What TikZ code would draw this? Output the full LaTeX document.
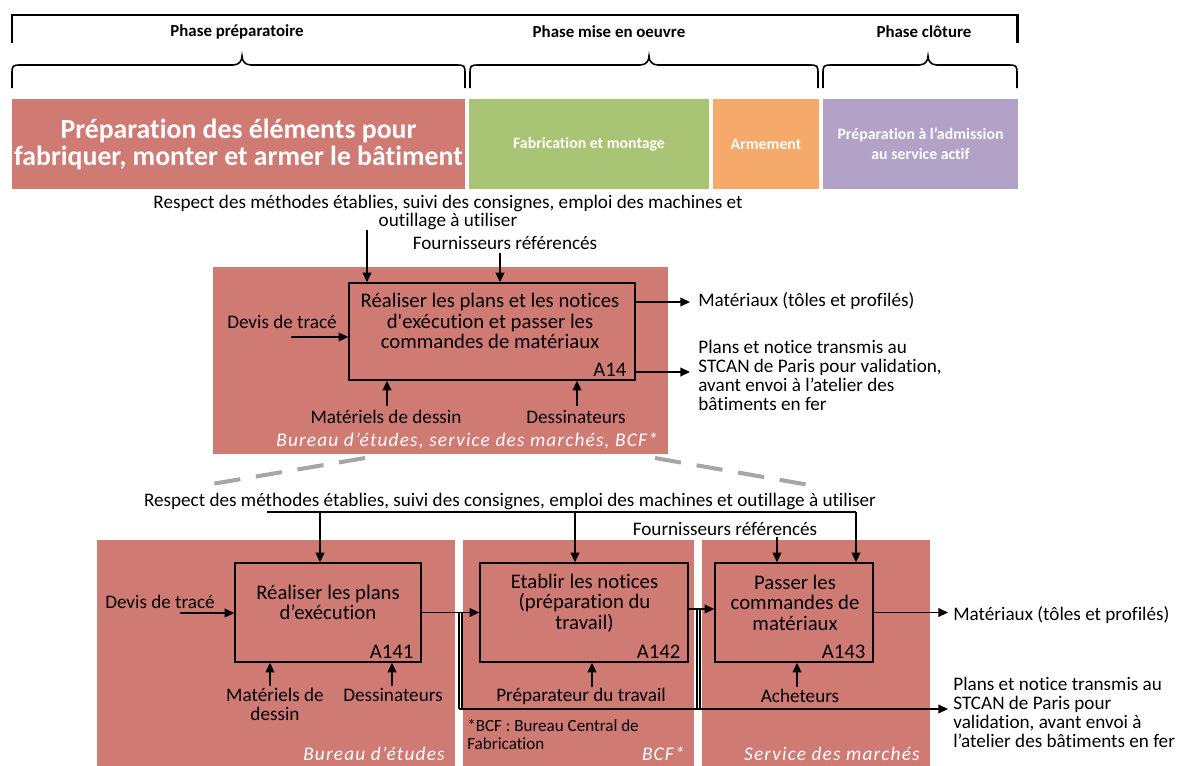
\documentclass[tikz,border=0pt]{standalone}
\usepackage{fontspec}
\setmainfont{Carlito}[Ligatures={TeX,NoCommon}]
\newfontfamily\spacedit[LetterSpace=6,Ligatures=NoCommon]{Carlito}
\usetikzlibrary{arrows.meta,calc}

\definecolor{boxred}{RGB}{207,123,116}
\definecolor{boxgreen}{RGB}{169,196,116}
\definecolor{boxorange}{RGB}{245,169,106}
\definecolor{boxpurple}{RGB}{178,162,199}
\definecolor{dashgray}{RGB}{166,166,166}

\newcommand\dglab{\fontsize{10.9}{10.8}\selectfont}
\newcommand\dgact{\fontsize{11.8}{11.7}\selectfont}
\newcommand\dgbig{\fontsize{15.8}{15.4}\selectfont\bfseries}
\newcommand\dgsml{\fontsize{9}{11.4}\selectfont\bfseries}
\newcommand\dgphase{\fontsize{9.6}{11}\selectfont\bfseries}
\newcommand\dgnote{\fontsize{9.7}{10}\selectfont}
\newcommand\dgunit{\fontsize{11}{12}\selectfont\spacedit\itshape}

% curly brace over a phase: left end, tip, right end
\newcommand\dgbrace[3]{%
  \draw[brace] (#1,88) -- (#1,75) .. controls (#1,65) .. ({#1+10},65)
    -- ({#2-9},65) .. controls ({#2-3},65) and (#2,61) .. (#2,56)
    .. controls (#2,61) and ({#2+3},65) .. ({#2+9},65)
    -- ({#3-10},65) .. controls (#3,65) .. (#3,75) -- (#3,88);}

\begin{document}
\begin{tikzpicture}[x=0.02cm,y=-0.02cm,
  phase/.style={fill=#1,text=white,inner sep=0pt,align=center,minimum height=1.8cm},
  act/.style={draw=black,line width=0.8pt,inner sep=0pt},
  acttxt/.style={font=\dgact,align=center,inner sep=0pt},
  actid/.style={font=\dgact,inner sep=0pt,anchor=south east},
  lbl/.style={font=\dglab,align=center,inner sep=0pt},
  lbll/.style={font=\dglab,align=left,inner sep=0pt,anchor=west},
  unit/.style={font=\dgunit,text=white,inner sep=0pt,anchor=east},
  arr/.style={line width=0.75pt,-{Triangle[length=5.5pt,width=5pt]}},
  ln/.style={line width=0.75pt},
  brace/.style={line width=0.9pt},
  zoomline/.style={draw=dashgray,line width=2.3pt,dash pattern=on 15pt off 9pt}
]
\useasboundingbox (0,0) rectangle (1180,765);
\clip (0,0) rectangle (1180,765);

% ---------- phases ----------
\draw[line width=1.7pt] (12,43) -- (12,15) -- (1017,15) -- (1017,43);
\node[font=\dgphase,inner sep=0pt] (lprep) at (237,31.5) {Phase préparatoire};
\node[font=\dgphase,inner sep=0pt] (lmise) at (609,31.5) {Phase mise en oeuvre};
\node[font=\dgphase,inner sep=0pt] (lclot) at (924,31.5) {Phase clôture};
\dgbrace{12}{242}{465}
\dgbrace{470}{649}{818}
\dgbrace{823}{928}{1017}

\node[phase=boxred,font=\dgbig,minimum width=9.06cm] (pprep) at (238.5,144)
  {\raisebox{-2pt}{\parbox{9cm}{\centering Préparation des éléments pour\\fabriquer, monter et armer le bâtiment}}};
\node[phase=boxgreen,font=\dgsml,minimum width=4.8cm] (pfab) at (589,144)
  {Fabrication et montage};
\node[phase=boxorange,font=\dgsml,minimum width=2.12cm] (parm) at (766,144)
  {Armement};
\node[phase=boxpurple,font=\dgsml,minimum width=3.9cm] (padm) at (920.5,144)
  {Préparation à l’admission\\au service actif};

% ---------- activity A14 ----------
\fill[boxred] (213,267) rectangle (668,454);
\node[act,minimum width=5.72cm,minimum height=1.94cm] (a14) at (492,331.5) {};
\node[acttxt] (a14t) at (490,321)
  {Réaliser les plans et les notices\\d\textquotesingle exécution et passer les\\commandes de matériaux};
\node[actid] (a14id) at ($(a14.south east)+(-9,-4)$) {A14};

\node[lbl] (ctl14) at (448,212.5)
  {Respect des méthodes établies, suivi des consignes, emploi des machines et\\outillage à utiliser};
\node[lbl] (sup14) at (505,243) {Fournisseurs référencés};
\node[lbl] (in14) at (282,322) {Devis de tracé};
\node[lbl] (mat14) at (386,417) {Matériels de dessin};
\node[lbl] (des14) at (576,417) {Dessinateurs};
\node[lbll] (out14a) at (698,301) {Matériaux (tôles et profilés)};
\node[lbll] (out14b) at (698,375)
  {Plans et notice transmis au\\STCAN de Paris pour validation,\\avant envoi à l’atelier des\\bâtiments en fer};
\node[unit] (u14) at (658,441) {Bureau d’études, service des marchés, BCF*};

\coordinate (c14a) at (367,230);
\coordinate (c14b) at (500,253);
\draw[arr] (c14a) -- (c14a |- a14.north);
\draw[arr] (c14b) -- (c14b |- a14.north);
\coordinate (i14) at (291,337);
\draw[arr] (i14) -- (i14 -| a14.west);
\coordinate (o14a) at (690,302);
\coordinate (o14b) at (690,372);
\draw[arr] (o14a -| a14.east) -- (o14a);
\draw[arr] (o14b -| a14.east) -- (o14b);
\coordinate (m14a) at (387,406);
\coordinate (m14b) at (577,406);
\draw[arr] (m14a) -- (m14a |- a14.south);
\draw[arr] (m14b) -- (m14b |- a14.south);

% ---------- decomposition lines ----------
\coordinate (z1) at (365,458);
\coordinate (z2) at (200,486);
\coordinate (z3) at (655,458);
\coordinate (z4) at (815,486);
\draw[zoomline] (z1) -- (z2);
\draw[zoomline] (z3) -- (z4);

% ---------- activities A141, A142, A143 ----------
\fill[boxred] (97,540) rectangle (455,770);
\fill[boxred] (463,540) rectangle (694,770);
\fill[boxred] (702,540) rectangle (930,770);

\node[act,minimum width=3.72cm,minimum height=1.98cm] (a141) at (328,612.5) {};
\node[act,minimum width=4.16cm,minimum height=1.98cm] (a142) at (584,612.5) {};
\node[act,minimum width=3.16cm,minimum height=1.98cm] (a143) at (794,612.5) {};
\node[acttxt] (a141t) at (328,602.5) {Réaliser les plans\\d’exécution};
\node[acttxt] (a142t) at (584.5,603) {Etablir les notices\\(préparation du\\travail)};
\node[acttxt] (a143t) at (795,602.5) {Passer les\\commandes de\\matériaux};
\node[actid] (a141id) at ($(a141.south east)+(-8,-4)$) {A141};
\node[actid] (a142id) at ($(a142.south east)+(-8,-4)$) {A142};
\node[actid] (a143id) at ($(a143.south east)+(-8,-4)$) {A143};

\node[lbl] (ctl) at (510,501)
  {Respect des méthodes établies, suivi des consignes, emploi des machines et outillage à utiliser};
\node[lbl] (sup) at (725,529) {Fournisseurs référencés};
\node[lbl] (in141) at (160,602) {Devis de tracé};
\node[lbl] (mat141) at (275,704.5) {Matériels de\\dessin};
\node[lbl] (des141) at (393,695) {Dessinateurs};
\node[lbl] (prep142) at (581,696) {Préparateur du travail};
\node[lbl] (ach143) at (800,696) {Acheteurs};
\node[font=\dgnote,align=left,inner sep=0pt,anchor=north west] (note) at (467,719)
  {*BCF : Bureau Central de\\Fabrication};
\node[lbll] (out143a) at (953,615) {Matériaux (tôles et profilés)};
\node[lbll] (out143b) at (953,712.5)
  {Plans et notice transmis au\\STCAN de Paris pour\\validation, avant envoi à\\l’atelier des bâtiments en fer};
\node[unit] (u1) at (445,754) {Bureau d’études};
\node[unit] (u2) at (685,754) {BCF*};
\node[unit] (u3) at (920,754) {Service des marchés};

% controls
\coordinate (kl) at (267,512);
\coordinate (kr) at (856,512);
\coordinate (k1) at (320,512);
\coordinate (k2) at (575,512);
\draw[ln] (kl) -- (kr);
\draw[arr] (k1) -- (k1 |- a141.north);
\draw[arr] (k2) -- (k2 |- a142.north);
\draw[arr] (kr) -- (kr |- a143.north);
\coordinate (s3) at (777,537);
\draw[arr] (s3) -- (s3 |- a143.north);

% inputs and flows
\coordinate (i141) at (180,613);
\draw[arr] (i141) -- (i141 -| a141.west);
\draw[arr] (a141) -- (a142);
\coordinate (a142o) at ($(a142.east)+(0,-3.5)$);
\draw[arr] (a142o) -- (a142o -| a143.west);

% outputs
\coordinate (j1) at (459,709);
\coordinate (j1b) at (462,709);
\coordinate (j2) at (697,709);
\coordinate (j2b) at (700,709);
\coordinate (o143a) at (948,612.5);
\coordinate (o143b) at (948,709);
\draw[ln] (a141.east) -| (j1);
\draw[ln] (j1b) -- (j1b |- a141.east);
\draw[ln] (a142o) -| (j2);
\draw[ln] (j2b) -- (j2b |- a142o);
\draw[arr] (j1) -- (o143b);
\draw[arr] (a143.east) -- (o143a);

% mechanisms
\coordinate (m141a) at (270,686);
\coordinate (m141b) at (392,686);
\coordinate (m142) at (592,687);
\coordinate (m143) at (797,687);
\draw[arr] (m141a) -- (m141a |- a141.south);
\draw[arr] (m141b) -- (m141b |- a141.south);
\draw[arr] (m142) -- (m142 |- a142.south);
\draw[arr] (m143) -- (m143 |- a143.south);
\end{tikzpicture}
\end{document}
